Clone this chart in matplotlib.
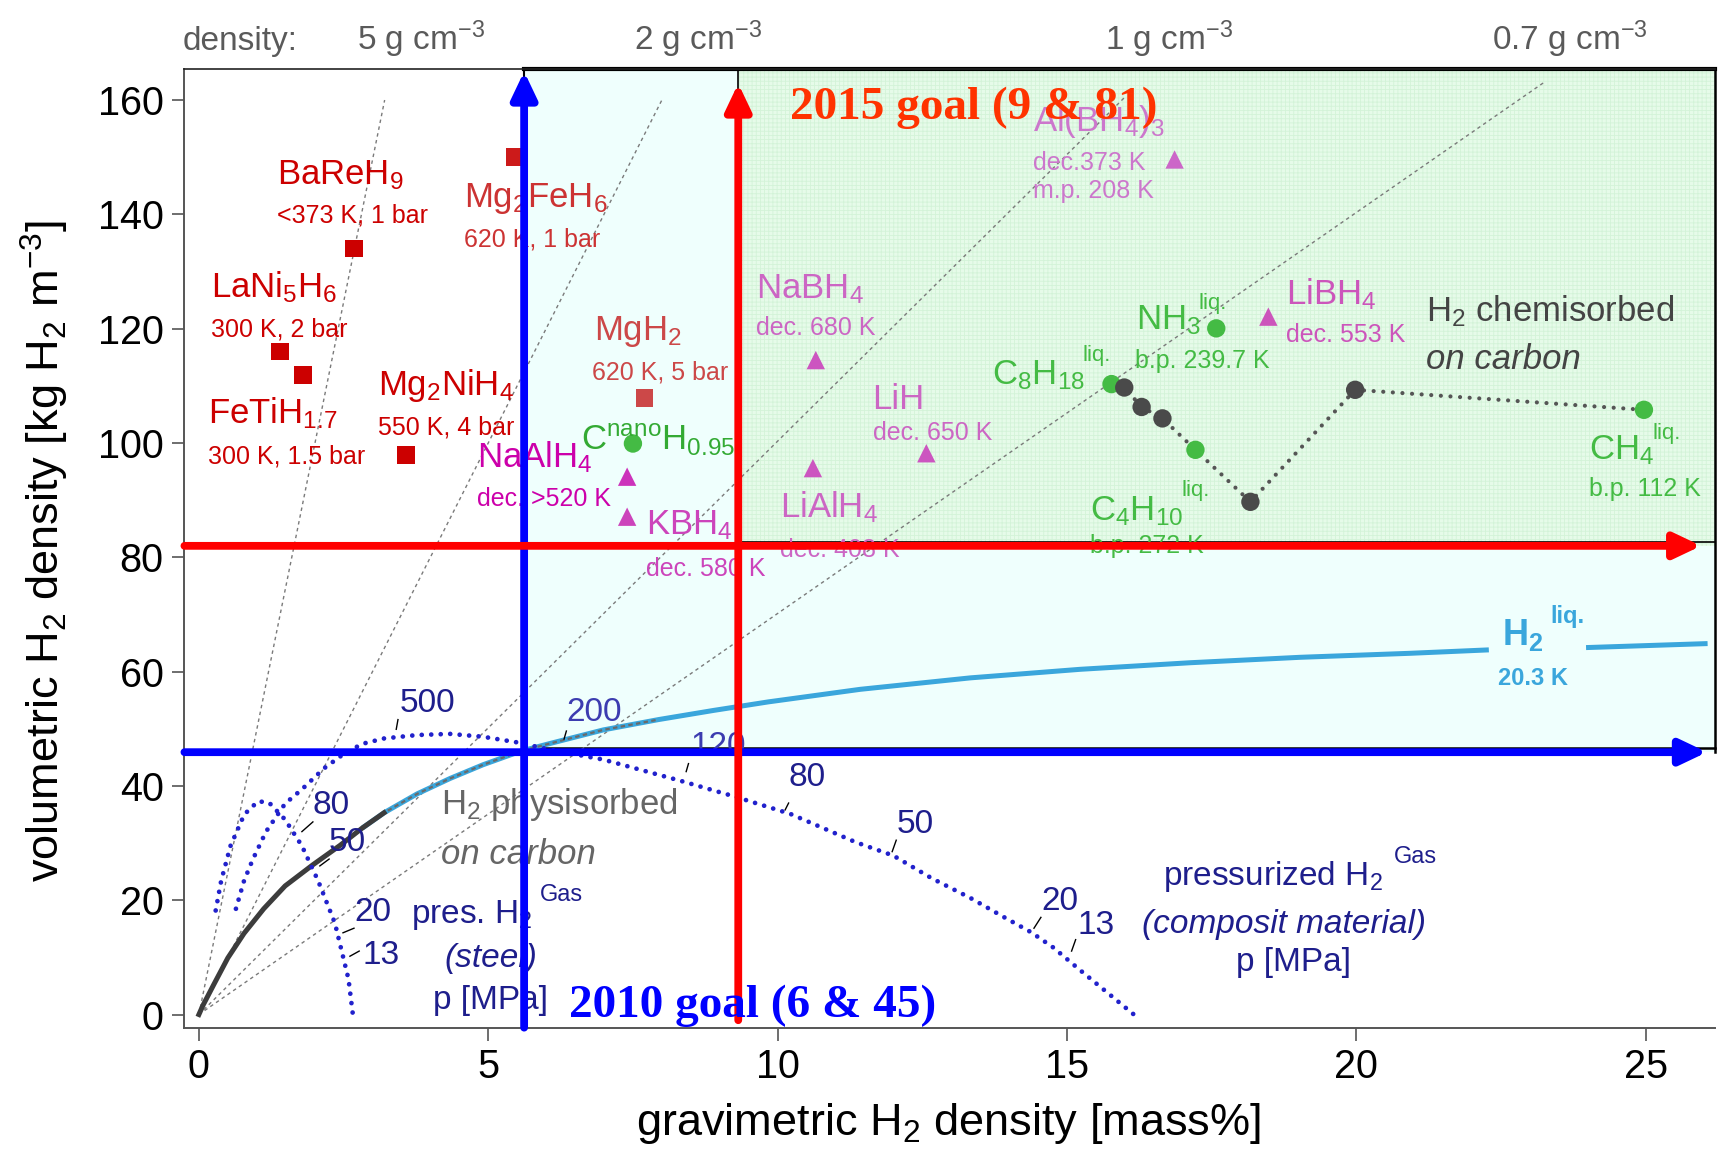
import matplotlib
matplotlib.use('Agg')
import matplotlib.pyplot as plt
import matplotlib.transforms as mtransforms
from matplotlib.patches import Rectangle

plt.rcParams['font.family'] = ['Liberation Sans', 'DejaVu Sans']
plt.rcParams['mathtext.fontset'] = 'custom'
plt.rcParams['mathtext.rm'] = 'Liberation Sans'
plt.rcParams['mathtext.it'] = 'Liberation Sans:italic'
plt.rcParams['mathtext.bf'] = 'Liberation Sans:bold'
plt.rcParams['mathtext.default'] = 'regular'
plt.rcParams['hatch.linewidth'] = 0.6

# ---- values (gravimetric mass%, volumetric kg/m3) ----
# metal hydrides: BaReH9, Mg2FeH6, LaNi5H6, FeTiH1.7, Mg2NiH4, MgH2
metal_wt = [2.68, 5.45, 1.40, 1.80, 3.58, 7.70]
metal_vol = [134.0, 150.0, 116.0, 111.9, 97.9, 107.9]

# complex hydrides: NaAlH4, KBH4, NaBH4, LiAlH4, LiH, Al(BH4)3, LiBH4
complex_wt = [7.40, 7.40, 10.66, 10.61, 12.57, 16.86, 18.48]
complex_vol = [94.1, 87.1, 114.5, 95.6, 98.2, 149.6, 122.1]

# C(nano)H0.95 and liquid hydrocarbons / NH3: CnanoH, C8H18, NH3, C4H10, CH4
liquid_wt = [7.50, 15.77, 17.58, 17.22, 24.97]
liquid_vol = [99.9, 110.3, 120.05, 98.8, 105.8]

# H2 chemisorbed on carbon (dark points) and the dotted chain through them
chem_wt = [15.99, 16.29, 16.65, 18.17, 19.98]
chem_vol = [109.7, 106.3, 104.3, 89.7, 109.3]
chain_wt = [15.77, 15.99, 16.29, 16.65, 17.22, 18.17, 19.98, 24.97]
chain_vol = [110.3, 109.7, 106.3, 104.3, 98.8, 89.7, 109.3, 105.8]

# pressurized H2, steel vessel
steel_wt = [0.29, 0.385, 0.546, 0.784, 1.02, 1.21, 1.49, 1.78, 2.06, 2.35, 2.585, 2.66]
steel_vol = [18.2, 23.4, 29.5, 35.0, 37.3, 37.1, 34.1, 29.5, 23.4, 16.0, 6.2, 0.05]

# pressurized H2, composite vessel
comp_wt = [0.64, 0.78, 0.93, 1.16, 1.49, 1.78, 2.16, 2.49, 2.82, 3.2, 3.77, 4.34,
           4.91, 5.48, 6.04, 6.99, 8.32, 9.27, 10.22, 11.35, 12.0, 12.67, 13.33,
           13.9, 14.38, 14.76, 15.23, 15.71, 16.15]
comp_vol = [18.5, 23.4, 27.1, 32.0, 36.9, 39.4, 43.05, 45.5, 47.35, 48.3, 48.9, 49.1,
            48.6, 47.65, 46.4, 44.6, 40.9, 38.1, 35.1, 30.15, 27.8, 23.8, 20.4,
            17.1, 14.4, 11.75, 7.74, 3.73, 0.05]

# H2 physisorbed on carbon, running into liquid H2
phys_wt = [0, 0.07, 0.26, 0.5, 0.78, 1.12, 1.49, 1.97, 2.44, 2.82, 3.2]
phys_vol = [0, 1.6, 5.3, 9.9, 14.2, 18.5, 22.5, 26.2, 29.6, 32.6, 35.3]
liq_wt = [2.82, 3.2, 3.77, 4.34, 4.91, 5.57, 6.04, 6.99, 7.94, 8.89, 9.84, 11.43,
          13.33, 15.23, 17.13, 19.03, 20.93, 22.29]
liq_vol = [32.6, 35.3, 38.6, 41.3, 43.7, 46.1, 47.35, 49.8, 51.6, 53.2, 54.7, 56.9,
           58.9, 60.4, 61.55, 62.5, 63.2, 63.8]
liq_end_wt = [23.97, 26.07]
liq_end_vol = [64.2, 64.9]

# constant-density lines (g cm-3) through the origin, end points
density_names = ['5', '2', '1', '0.7']
density_end_wt = [3.21, 8.0, 16.0, 23.26]
density_end_vol = [160.0, 160.0, 160.5, 163.2]

# DOE targets as drawn
goal_2010 = (5.62, 45.9)
goal_2015 = (9.32, 82.0)

# pressure labels [MPa]
press_text = ['500', '200', '120', '80', '50', '20', '13', '80', '50', '20', '13']

# ---- figure ----
fig = plt.figure(figsize=(17.22, 11.49), dpi=100)
ax = fig.add_axes([0.1071, 0.1056, 0.8889, 0.8342])
x0, x1, y0, y1 = -0.25, 26.2, -2.3, 165.4
ax.set_xlim(x0, x1)
ax.set_ylim(y0, y1)

gw10, gv10 = goal_2010
gw15, gv15 = goal_2015

# target regions
ax.add_patch(Rectangle((gw10, gv10), x1 - gw10, y1 - gv10, facecolor='#effffd',
                       edgecolor='none', zorder=0))
ax.add_patch(Rectangle((gw15, gv15), x1 - gw15, y1 - gv15, facecolor='#e6fbe9',
                       edgecolor='none', zorder=0.1))
ax.add_patch(Rectangle((gw15, gv15), x1 - gw15, y1 - gv15, facecolor='none',
                       edgecolor='#d3f3d8', hatch='++++', lw=0, zorder=0.2))

up = mtransforms.offset_copy(ax.transData, fig=fig, x=0, y=4, units='dots')
ax.plot([gw10, x1], [gv10, gv10], color='k', lw=1.8, transform=up, zorder=0.5, clip_on=False)
ax.plot([x1, x1], [gv10, y1], color='k', lw=1.8, zorder=0.5, clip_on=False)
ax.plot([gw10, x1], [y1, y1], color='k', lw=3, zorder=0.5, clip_on=False)
ax.plot([gw10, gw10], [gv10, y1], color='k', lw=1.5, zorder=0.5)
ax.plot([gw15, gw15], [gv15, y1], color='k', lw=1.2, zorder=0.5)
ax.plot([gw15, x1], [gv15, gv15], color='k', lw=1.2, transform=up, zorder=0.5)

# density lines
for w, v in zip(density_end_wt, density_end_vol):
    ax.plot([0, w], [0, v], color='#7a7a7a', lw=1.0, ls=(0, (2.5, 2.5)), zorder=1)

# physisorbed / liquid H2
ax.plot(liq_wt, liq_vol, color='#3aa6dc', lw=3.6, solid_capstyle='butt',
        solid_joinstyle='round', zorder=2)
ax.plot(liq_end_wt, liq_end_vol, color='#3aa6dc', lw=3.6, solid_capstyle='butt', zorder=2)
ax.plot(liq_wt[:9], liq_vol[:9], color='#6a6a6a', lw=1.6, ls=(0, (2, 1.5)), zorder=2.1)
ax.plot(phys_wt, phys_vol, color='#3c3c3c', lw=3.6, solid_joinstyle='round', zorder=2.2)

# pressurized gas curves
ax.plot(steel_wt, steel_vol, color='#2121cc', lw=3.4, ls=(0, (0.01, 2.0)),
        dash_capstyle='round', zorder=3)
ax.plot(comp_wt, comp_vol, color='#2121cc', lw=3.4, ls=(0, (0.01, 2.0)),
        dash_capstyle='round', zorder=3)

# chemisorbed chain
ax.plot(chain_wt, chain_vol, color='#555555', lw=3.0, ls=(0, (0.01, 2.3)),
        dash_capstyle='round', zorder=3)

# markers
metal_colors = ['#cc0000', '#cc1a1a', '#cc0000', '#cc0000', '#cc0000', '#cc4848']
ax.scatter(metal_wt, metal_vol, marker='s', s=160, c=metal_colors, edgecolors='none', zorder=4)
complex_colors = ['#cc33bb', '#cc44bb', '#cc55c0', '#cc55c0', '#cc55c0', '#cc66c8', '#cc55bb']
ax.scatter(complex_wt, complex_vol, marker='^', s=175, c=complex_colors, edgecolors='none', zorder=4)
ax.scatter(liquid_wt, liquid_vol, marker='o', s=175, c='#44bb44', edgecolors='none', zorder=4)
ax.scatter(chem_wt, chem_vol, marker='o', s=175, c='#4a4a4a', edgecolors='none', zorder=4)


def label(txt, w, v, size, color, style='normal', weight='normal'):
    ax.annotate(txt, (w, v), xytext=(0, -0.358 * size), textcoords='offset points',
                ha='left', va='baseline', fontsize=size, color=color,
                fontstyle=style, fontweight=weight, zorder=6, annotation_clip=False)


red = '#cc0000'
label('BaReH$_9$', 1.35, 147.5, 25, red)
label('<373 K, 1 bar', 1.35, 140.2, 18, red)
label('Mg$_2$FeH$_6$', 4.575, 143.5, 25, '#cc3333')
label('620 K, 1 bar', 4.575, 135.9, 18, '#cc3333')
label('LaNi$_5$H$_6$', 0.215, 127.6, 25, red)
label('300 K, 2 bar', 0.215, 120.2, 18, red)
label('FeTiH$_{1.7}$', 0.15, 105.6, 25, red)
label('300 K, 1.5 bar', 0.15, 97.9, 18, red)
label('Mg$_2$NiH$_4$', 3.09, 110.6, 25, red)
label('550 K, 4 bar', 3.09, 103.1, 18, red)
label('MgH$_2$', 6.83, 120.2, 25, '#cc4848')
label('620 K, 5 bar', 6.80, 112.75, 18, '#cc4848')

label('NaAlH$_4$', 4.81, 97.9, 25, '#cc00aa')
label('dec. >520 K', 4.81, 90.6, 18, '#cc00aa')
label('KBH$_4$', 7.73, 86.2, 25, '#cc44bb')
label('dec. 580 K', 7.73, 78.35, 18, '#cc44bb')
label('NaBH$_4$', 9.63, 127.5, 25, '#cc66c4')
label('dec. 680 K', 9.63, 120.5, 18, '#cc66c4')
label('LiAlH$_4$', 10.05, 89.1, 25, '#cc66c4')
label('dec. 408 K', 10.05, 81.6, 18, '#cc66c4')
label('LiH', 11.64, 108.1, 25, '#cc66c4')
label('dec. 650 K', 11.64, 102.0, 18, '#cc66c4')
label('Al(BH$_4$)$_3$', 14.42, 156.8, 25, '#cc77cc')
label('dec.373 K', 14.42, 149.3, 18, '#cc77cc')
label('m.p. 208 K', 14.42, 144.4, 18, '#cc77cc')
label('LiBH$_4$', 18.79, 126.5, 25, '#cc55bb')
label('dec. 553 K', 18.79, 119.2, 18, '#cc55bb')

green = '#44bb44'
label('C$^{nano}$H$_{0.95}$', 6.61, 100.95, 25, '#33aa33')
label('C$_8$H$_{18}$', 13.71, 112.5, 25, green)
label('liq.', 15.27, 115.8, 16, green)
label('NH$_3$', 16.2, 122.1, 25, green)
label('liq.', 17.27, 124.9, 16, green)
label('b.p. 239.7 K', 16.18, 114.65, 18, green)
label('C$_4$H$_{10}$', 15.4, 88.7, 25, green)
label('liq.', 16.98, 92.2, 16, green)
label('b.p. 272 K', 15.4, 82.3, 18, green)
label('CH$_4$', 24.02, 99.3, 25, green)
label('liq.', 25.11, 102.1, 16, green)
label('b.p. 112 K', 24.02, 92.2, 18, green)

label('H$_2$ chemisorbed', 21.21, 123.4, 25, '#444444')
label('on carbon', 21.21, 115.1, 25, '#444444', style='italic')
label('H$_2$ physisorbed', 4.19, 37.2, 25, '#666666')
label('on carbon', 4.19, 28.5, 25, '#666666', style='italic')

navy = '#1e1e8c'
label('pres. H$_2$', 3.66, 18.15, 24, navy)
label('Gas', 5.9, 21.4, 17, navy)
label('(steel)', 4.24, 10.4, 24, navy, style='italic')
label('p [MPa]', 4.05, 3.1, 24, navy)
label('pressurized H$_2$', 16.66, 24.8, 24, navy)
label('Gas', 20.65, 28.0, 17, navy)
label('(composit material)', 16.29, 16.3, 24, navy, style='italic')
label('p [MPa]', 17.92, 9.75, 24, navy)

lblue = '#3aa6dc'
label('H$_2$', 22.52, 67.0, 26, lblue, weight='bold')
label('liq.', 23.36, 69.95, 17, lblue, weight='bold')
label('20.3 K', 22.45, 59.1, 17, lblue, weight='bold')

# pressure labels and their little pointer strokes
press_pos = [(3.47, 55.0), (6.35, 53.5), (8.49, 47.5), (10.19, 42.0), (12.05, 33.8),
             (14.55, 20.4), (15.18, 16.1), (1.97, 37.1), (2.25, 30.76), (2.68, 18.5),
             (2.82, 11.0)]
press_cols = [navy, '#3c3cb0', '#3c3cb0'] + [navy] * 8
for t, (w, v), c in zip(press_text, press_pos, press_cols):
    label(t, w, v, 24, c)
press_ticks = [((3.44, 51.6), (3.41, 49.9)), ((6.35, 49.6), (6.31, 48.2)),
               ((8.46, 43.9), (8.42, 42.5)), ((10.19, 37.0), (10.13, 35.8)),
               ((12.05, 30.5), (11.98, 28.5)), ((14.55, 17.0), (14.43, 15.1)),
               ((15.15, 13.1), (15.08, 11.1)), ((1.97, 33.7), (1.78, 32.0)),
               ((2.25, 27.2), (2.09, 26.0)), ((2.68, 15.1), (2.49, 14.3)),
               ((2.77, 11.1), (2.61, 10.2))]
for (a, b), (c, d) in press_ticks:
    ax.plot([a, c], [b, d], color='k', lw=1.0, zorder=5)

# goal arrows
akw = dict(arrowstyle='-|>,head_length=0.8,head_width=0.38', mutation_scale=20,
           lw=5.6, shrinkA=0, shrinkB=0)
ax.annotate('', xy=(gw10, 165.0), xytext=(gw10, y0),
            arrowprops=dict(color='#0000ff', **akw), annotation_clip=False, zorder=7)
ax.annotate('', xy=(26.06, gv10), xytext=(x0, gv10),
            arrowprops=dict(color='#0000ff', **akw), annotation_clip=False, zorder=7)
ax.annotate('', xy=(gw15, 162.9), xytext=(gw15, -1.0),
            arrowprops=dict(color='#ff0000', **akw), annotation_clip=False, zorder=7)
ax.annotate('', xy=(25.96, gv15), xytext=(x0, gv15),
            arrowprops=dict(color='#ff0000', **akw), annotation_clip=False, zorder=7)

ax.annotate('2015 goal (9 & 81)', (10.22, 159.4), xytext=(0, -0.33 * 34),
            textcoords='offset points', va='baseline', fontsize=34,
            family='Liberation Serif', fontweight='bold', color='#ff3300', zorder=10)
ax.annotate('2010 goal (6 & 45)', (6.39, 2.25), xytext=(0, -0.33 * 34),
            textcoords='offset points', va='baseline', fontsize=34,
            family='Liberation Serif', fontweight='bold', color='#0000ff', zorder=10)

# density labels above the frame
blend = mtransforms.blended_transform_factory(ax.transData, fig.transFigure)
ax.text(-0.28, 0.9565, 'density:', transform=blend, fontsize=24, color='#5a5a5a', va='baseline')
dens_x = [2.73, 7.51, 15.65, 22.35]
for name, xx in zip(density_names, dens_x):
    ax.text(xx, 0.9565, name + ' g cm$^{-3}$', transform=blend, fontsize=24,
            color='#5a5a5a', va='baseline')

# axes styling
ax.set_xticks([0, 5, 10, 15, 20, 25])
ax.set_yticks(range(0, 161, 20))
ax.tick_params(direction='out', length=9, width=1.2, color='#555555', labelsize=28.5, pad=6)
for s in ['left', 'bottom']:
    ax.spines[s].set_color('#555555')
    ax.spines[s].set_linewidth(1.4)
ax.spines['top'].set_color('#222222')
ax.spines['top'].set_linewidth(1.2)
ax.spines['right'].set_visible(False)

fig.text(0.5508, 0.0125, 'gravimetric H$_2$ density [mass%]', ha='center', va='baseline',
         fontsize=32.5)
fig.text(0.0262, 0.5205, 'volumetric H$_2$ density [kg H$_2$ m$^{-3}$]', ha='center',
         va='center', rotation=90, fontsize=32.5)

fig.savefig('out.png', dpi=100)
